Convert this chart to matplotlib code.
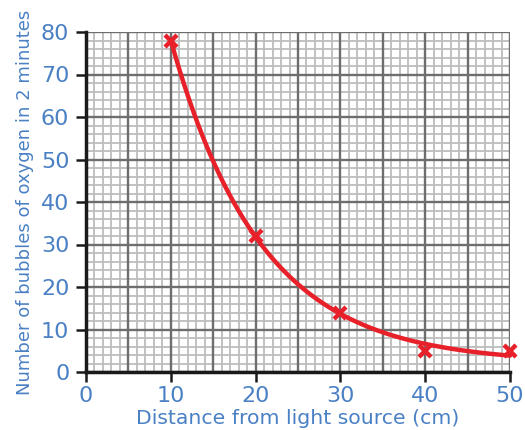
import numpy as np
import matplotlib
matplotlib.use("Agg")
import matplotlib.pyplot as plt

# Measured data
distance_cm = [10, 20, 30, 40, 50]
bubbles = [78, 32, 14, 5, 5]

x_ticks = [0, 10, 20, 30, 40, 50]
y_ticks = [0, 10, 20, 30, 40, 50, 60, 70, 80]

TEXT_BLUE = "#4a80c4"
RED = "#e8202a"

plt.rcParams["font.family"] = ["DejaVu Sans"]

# Best-fit curve: y = c + A*exp(-k*x), k by scan, c and A by least squares
xd = np.array(distance_cm, float)
yd = np.array(bubbles, float)
best = None
for k in np.linspace(0.02, 0.3, 2000):
    M = np.column_stack([np.ones_like(xd), np.exp(-k * xd)])
    coef, *_ = np.linalg.lstsq(M, yd, rcond=None)
    err = np.sum((M @ coef - yd) ** 2)
    if best is None or err < best[0]:
        best = (err, k, coef)
_, k_fit, (c_fit, a_fit) = best
xs = np.linspace(xd.min(), xd.max(), 300)
ys = c_fit + a_fit * np.exp(-k_fit * xs)

fig = plt.figure(figsize=(5.25, 4.3), dpi=100)
ax = fig.add_axes([86 / 525, 1 - 372 / 430, 424 / 525, 340 / 430])

ax.set_xlim(0, 50)
ax.set_ylim(0, 80)

# Graph-paper grid
for xv in np.arange(0, 51, 1):
    major = xv % 5 == 0
    ax.axvline(xv, color="#6e6e6e" if major else "#bdbdbd",
               lw=1.7 if major else 1.3, zorder=1 if major else 0.5)
for yv in np.arange(0, 81, 2):
    major = yv % 10 == 0
    ax.axhline(yv, color="#6e6e6e" if major else "#bdbdbd",
               lw=1.7 if major else 1.3, zorder=1 if major else 0.5)

ax.plot(xs, ys, color=RED, lw=3.2, zorder=3, solid_capstyle="round",
        clip_on=False)
ax.plot(distance_cm, bubbles, linestyle="none", marker="x", color=RED,
        markersize=9, markeredgewidth=3.2, zorder=4, clip_on=False)

for side in ("top", "right"):
    ax.spines[side].set_visible(False)
for side in ("left", "bottom"):
    ax.spines[side].set_linewidth(2.5)
    ax.spines[side].set_color("#1a1a1a")
    ax.spines[side].set_zorder(5)

ax.set_xticks(x_ticks)
ax.set_yticks(y_ticks)
ax.set_xticklabels([str(v) for v in x_ticks])
ax.set_yticklabels([str(v) for v in y_ticks])
ax.tick_params(which="major", length=7, width=1.8, color="#1a1a1a",
               labelsize=16, labelcolor=TEXT_BLUE)
ax.tick_params(axis="y", pad=5)
ax.tick_params(axis="x", pad=3)
ax.tick_params(which="minor", length=0)

ax.set_xlabel("Distance from light source (cm)", fontsize=14.7,
              color=TEXT_BLUE, labelpad=2)
ax.set_ylabel("Number of bubbles of oxygen in 2 minutes", fontsize=13,
              color=TEXT_BLUE, labelpad=5)

fig.savefig("out.png", dpi=100)
